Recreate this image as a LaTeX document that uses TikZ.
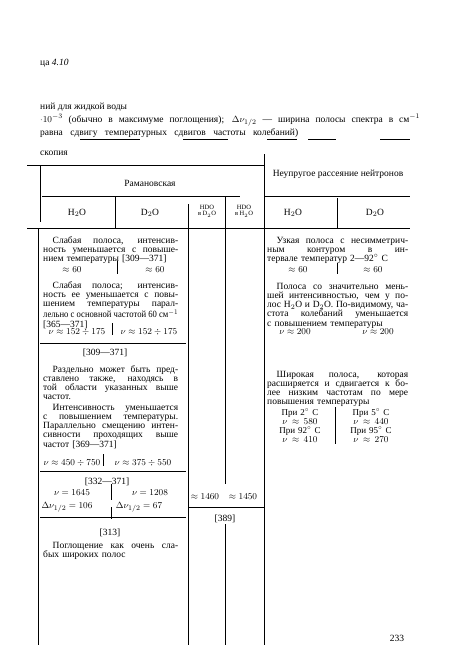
\documentclass[tikz,border=0pt]{standalone}
\usepackage{fontspec}
\setmainfont{Liberation Serif}
\usepackage{amsmath}
\usepackage{graphicx}
\usetikzlibrary{calc}
\newcommand{\tabfont}{\fontsize{9.5}{9.3}\selectfont}
\newcommand{\smallhead}{\fontsize{6.5}{6.8}\selectfont}
% one printed line, stretched or squeezed to the column width
\newlength{\jlen}
\newcommand{\jline}[2]{{\spaceskip=0pt\xspaceskip=0pt\settowidth{\jlen}{#2}\ifdim\jlen>#1\relax\resizebox{#1}{\height}{#2}\else\makebox[#1][s]{#2}\fi}}
\newcommand{\jl}[1]{\jline{135pt}{#1}}
\newcommand{\jr}[1]{\jline{141pt}{#1}}
\tikzset{my rule/.style={
  black,
  line width=0.6pt
  }
}
\tikzset{my cell/.style={
  inner sep=0pt,
  anchor=base west,
  text width=#1,
  align=left,
  font=\tabfont
  }
}
\tikzset{my label/.style={
  inner sep=0pt,
  anchor=base,
  font=\tabfont
  }
}

\begin{document}
\begin{tikzpicture}[x=1pt,y=-1pt]
    \useasboundingbox (0,0) rectangle (450,662);

    \begin{scope}[shift={(0,24)}]
    % caption above the table
    \node[my label, anchor=base west] (tabno) at (40,41) {ца \textit{4.10}};
    \node[my label, anchor=base west] (title) at (40,85) {ний для жидкой воды};
    \node[my label, anchor=base west] (noteA) at (40,98) {\makebox[380pt][s]{$\cdot10^{-3}$ (обычно в максимуме поглощения); $\Delta\nu_{1/2}$ --- ширина полосы спектра в см$^{-1}$}};
    \node[my label, anchor=base west] (noteB) at (40,111) {\makebox[258pt][s]{равна сдвигу температурных сдвигов частоты колебаний)}};

    % broken top rule
    \foreach \a/\b in {80/140,183/228,267/297,308/336,380/410}
        \draw[my rule] (\a,115) -- (\b,115);

    \node[my label, anchor=base west] (spec) at (40,131) {скопия};

    % horizontal rules
    \foreach \y/\a/\b in {141/27/264, 172/42/240, 172/265/410, 204/27/410,
                          319/40/186, 447/40/186, 493/40/186, 483/188/264}
        \draw[my rule] (\a,\y) -- (\b,\y);

    % vertical rules
    \foreach \x/\a/\b in {264/130/621, 40/141/198, 38/204/621, 115/172/204,
                          188/180/621, 225/172/460, 225/500/621, 337/174/204,
                          117/237/250, 112/299/311, 103/430/442, 111/460/476,
                          111/483/495, 337/239/250, 335/383/420}
        \draw[my rule] (\x,\a) -- (\x,\b);

    % column heads
    \node[my label] (raman) at (150,162) {Рамановская};
    \node[my label] (neutr) at (338,152) {Неупругое рассеяние нейтронов};
    \foreach \x/\t [count=\n] in {77/H$_2$O, 150/D$_2$O, 293/H$_2$O, 375/D$_2$O}
        \node[my label] (col\n) at (\x,191) {\t};
    \node[inner sep=0pt, font=\smallhead, align=center] (hdoD) at (207,187) {HDO\\в D$_2$O};
    \node[inner sep=0pt, font=\smallhead, align=center] (hdoH) at (244,187) {HDO\\в H$_2$O};

    % left part, H2O and D2O
    \node[my cell=135pt] (weakA) at (43,219) {\jl{\hspace*{1em}Слабая полоса, интенсив-}\\\jl{ность уменьшается с повыше-}\\нием температуры [309---371]};
    \node[my label] (wA1) at (72,248) {$\approx60$};
    \node[my label] (wA2) at (155,248) {$\approx60$};

    \node[my cell=135pt] (weakB) at (43,264) {\jl{\hspace*{1em}Слабая полоса; интенсив-}\\\jl{ность ее уменьшается с повы-}\\\jl{шением температуры парал-}\\\jl{лельно с основной частотой 60 см$^{-1}$}\\{}[365---371]};
    \node[my label] (wB1) at (77,310) {$\nu\approx152\div175$};
    \node[my label] (wB2) at (149,310) {$\nu\approx152\div175$};
    \node[my label] (refB) at (105,331) {[309---371]};

    \node[my cell=135pt] (sepC) at (43,348) {\jl{\hspace*{1em}Раздельно может быть пред-}\\\jl{ставлено также, находясь в}\\\jl{той области указанных выше}\\частот.};

    \node[my cell=135pt] (intD) at (43,386) {\jl{\hspace*{1em}Интенсивность уменьшается}\\\jl{с повышением температуры.}\\\jl{Параллельно смещению интен-}\\\jl{сивности проходящих выше}\\частот [369---371]};
    \node[my label] (wD1) at (72,441) {$\nu\approx450\div750$};
    \node[my label] (wD2) at (143,441) {$\nu\approx375\div550$};
    \node[my label] (refD) at (107,460) {[332---371]};

    \node[my label] (bend1) at (72,471) {$\nu=1645$};
    \node[my label] (bend2) at (150,471) {$\nu=1208$};
    \node[my label] (half1) at (67,484) {$\Delta\nu_{1/2}=106$};
    \node[my label] (half2) at (139,484) {$\Delta\nu_{1/2}=67$};
    \node[my label] (refE) at (110,511) {[313]};
    \node[my cell=135pt] (absF) at (43,524) {\jl{\hspace*{1em}Поглощение как очень сла-}\\бых широких полос};

    % HDO columns
    \node[my label] (hdo1) at (205,475) {$\approx1460$};
    \node[my label] (hdo2) at (243,475) {$\approx1450$};
    \node[my label] (refH) at (225,497) {[389]};

    % right part, neutron scattering
    \node[my cell=141pt] (nE) at (267,219) {\jr{\hspace*{1em}Узкая полоса с несимметрич-}\\\jr{ным контуром в ин-}\\тервале температур 2---92$^\circ$ С};
    \node[my label] (nE1) at (298,248) {$\approx60$};
    \node[my label] (nE2) at (373,248) {$\approx60$};

    \node[my cell=141pt] (nF) at (267,265) {\jr{\hspace*{1em}Полоса со значительно мень-}\\\jr{шей интенсивностью, чем у по-}\\\jr{лос H$_2$O и D$_2$O. По-видимому, ча-}\\\jr{стота колебаний уменьшается}\\с повышением температуры};
    \node[my label] (nF1) at (295,310) {$\nu\approx200$};
    \node[my label] (nF2) at (378,310) {$\nu\approx200$};

    \node[my cell=141pt, font=\fontsize{9.5}{9}\selectfont] (nG) at (267,353) {\jr{\hspace*{1em}Широкая полоса, которая}\\\jr{расширяется и сдвигается к бо-}\\\jr{лее низким частотам по мере}\\повышения температуры};
    \node[my label, text width=62pt, align=center, font=\fontsize{9}{9}\selectfont] (gL) at (300,391) {При 2$^\circ$ С\\$\nu\approx580$\\При 92$^\circ$ С\\$\nu\approx410$};
    \node[my label, text width=62pt, align=center, font=\fontsize{9}{9}\selectfont] (gR) at (371,391) {При 5$^\circ$ С\\$\nu\approx440$\\При 95$^\circ$ С\\$\nu\approx270$};

    \node[my label] (page) at (397,617) {233};
    \end{scope}

\end{tikzpicture}
\end{document}
